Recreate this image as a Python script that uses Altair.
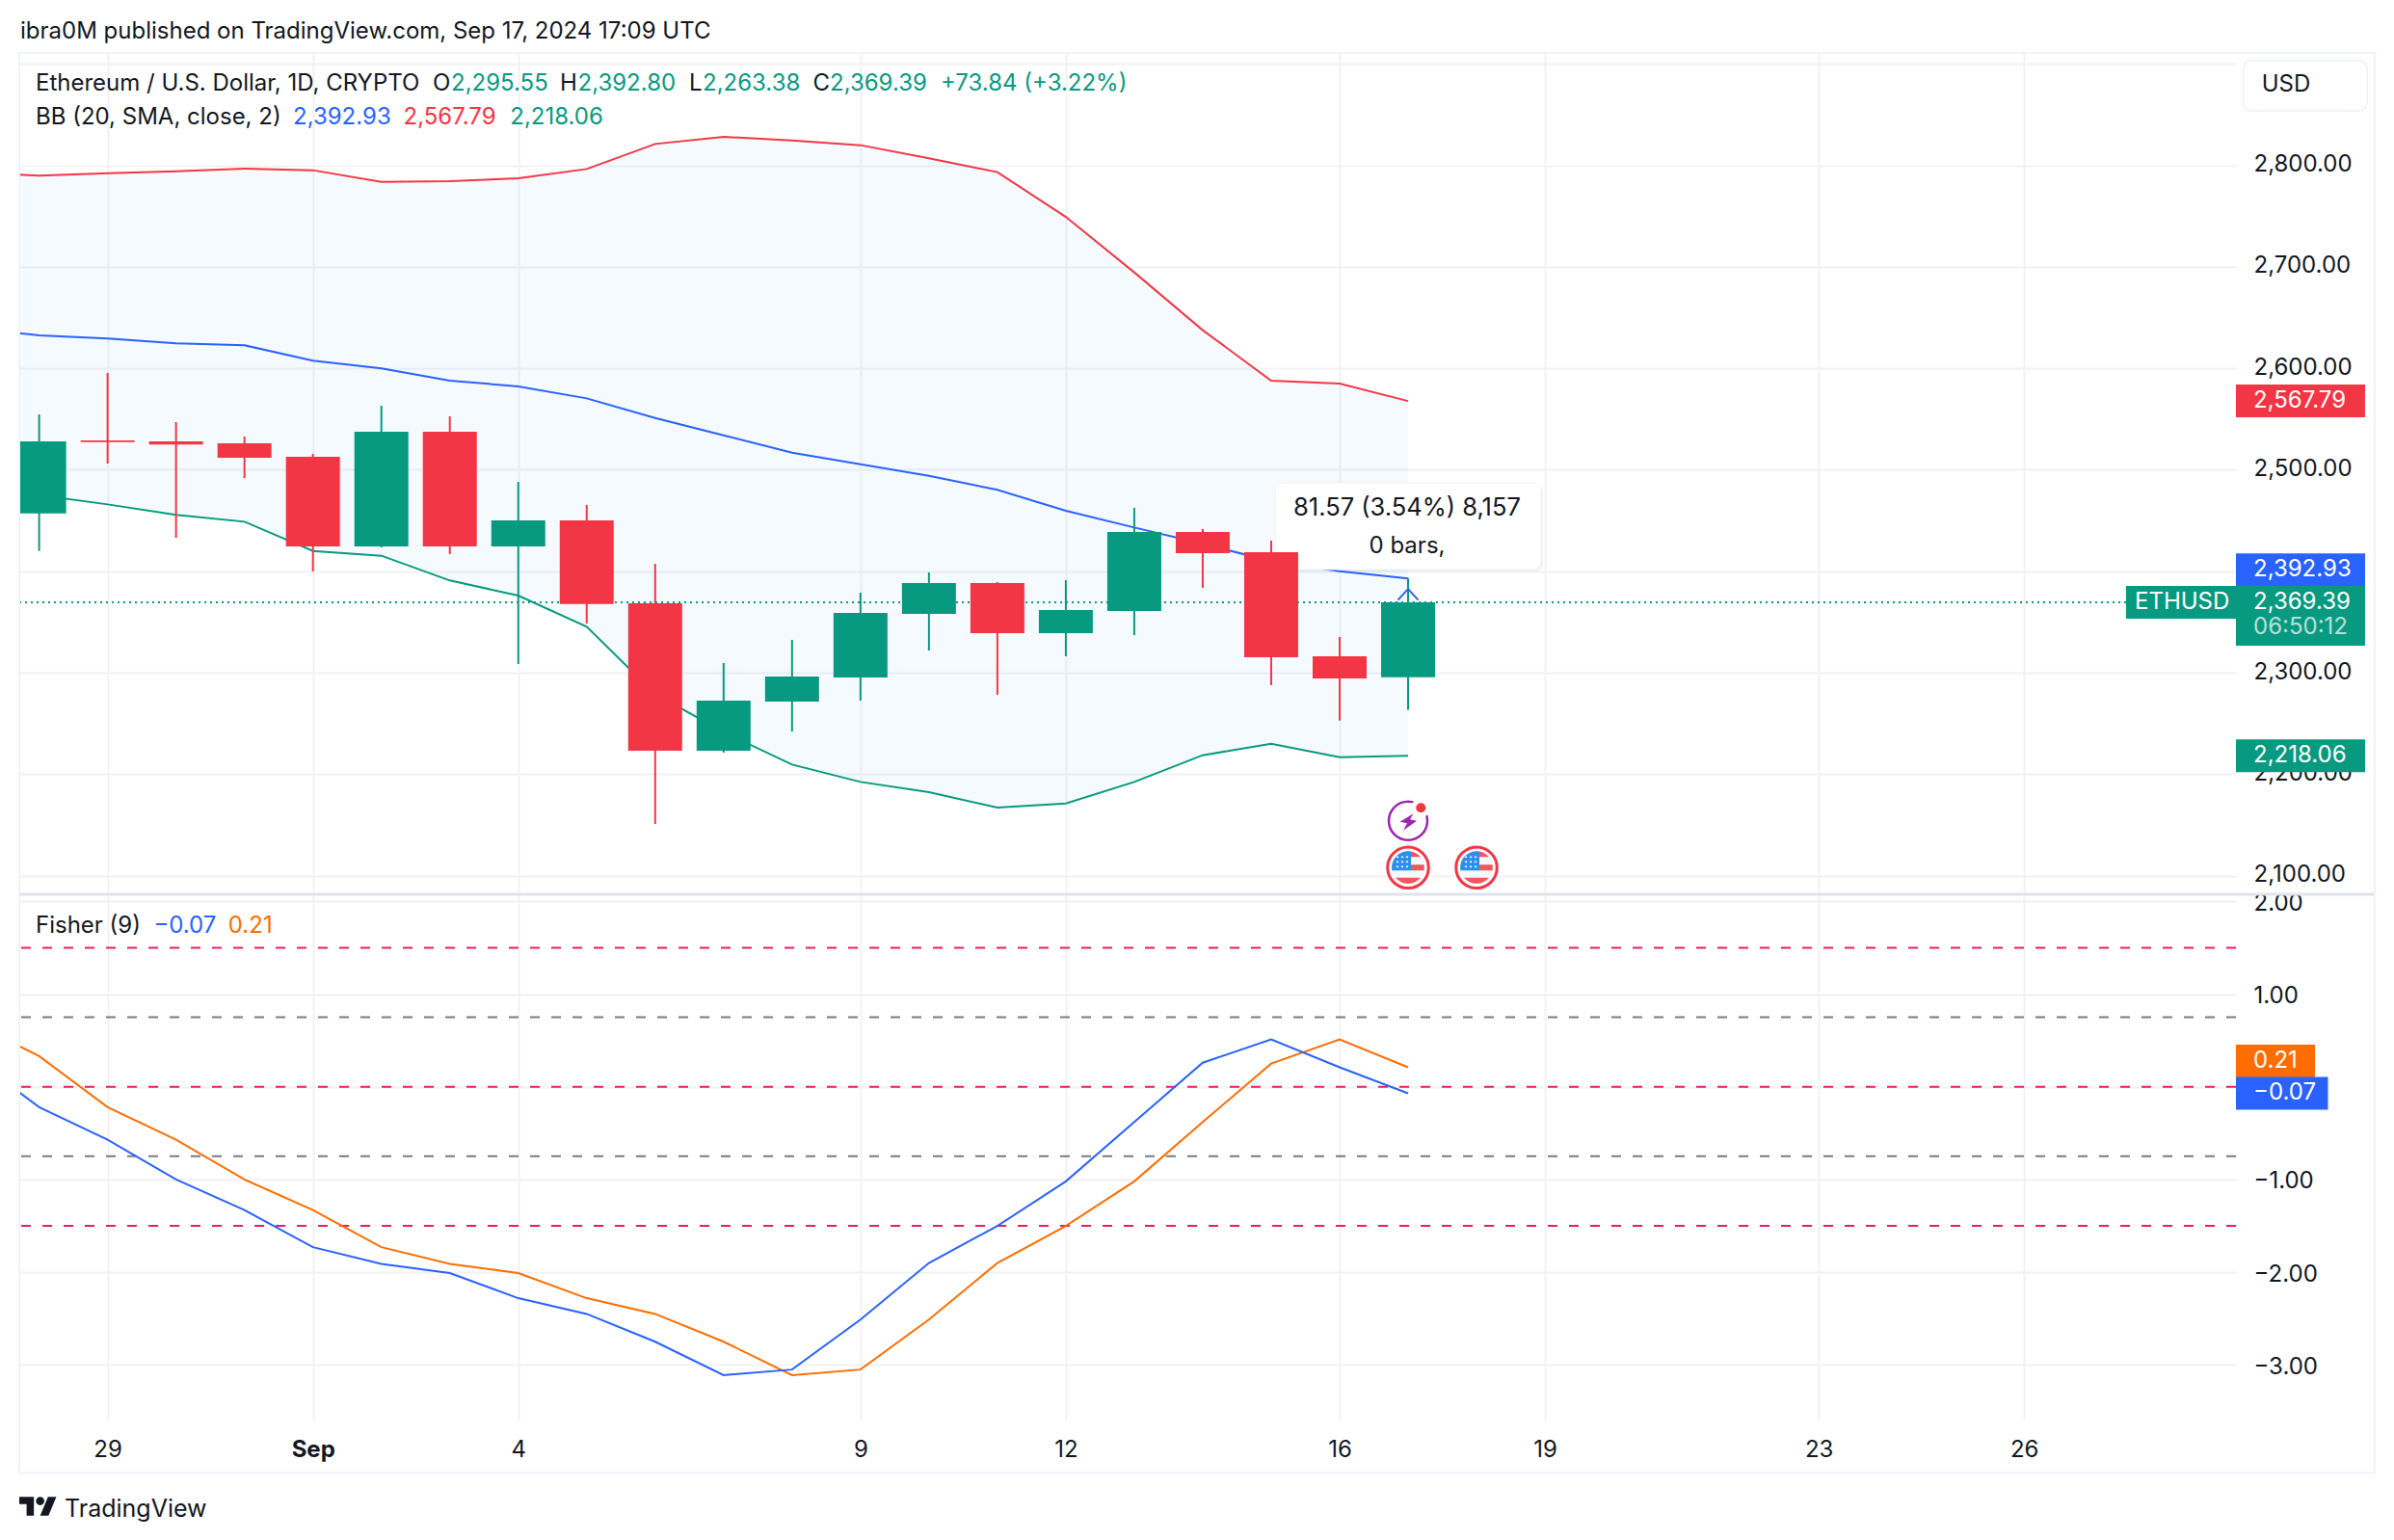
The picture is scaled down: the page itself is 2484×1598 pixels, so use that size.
import altair as alt
import pandas as pd

FONT = "Inter"
INK = "#131722"
GREEN = "#089981"
RED = "#f23645"
BLUE = "#2962ff"
ORANGE = "#ff6d00"
GRID = "#f1f2f5"
FRAME = "#f0f3fa"

DATES = ["2024-08-27", "2024-08-28", "2024-08-29", "2024-08-30", "2024-08-31",
         "2024-09-01", "2024-09-02", "2024-09-03", "2024-09-04", "2024-09-05",
         "2024-09-06", "2024-09-07", "2024-09-08", "2024-09-09", "2024-09-10",
         "2024-09-11", "2024-09-12", "2024-09-13", "2024-09-14", "2024-09-15",
         "2024-09-16", "2024-09-17"]
BB_UPPER = [2792.8, 2790, 2792.4, 2794.3, 2796.9, 2795.3, 2783.9, 2784.5, 2787.4, 2796.5, 2821.2,
            2828.2, 2824.7, 2820, 2807, 2793.4, 2749.3, 2694.6, 2637.6, 2587.9, 2585, 2567.79]
BB_MID = [2640.1, 2632.5, 2629.3, 2624.6, 2622.7, 2607.5, 2599.9, 2587.9, 2582.2, 2570.4, 2551.1,
          2534, 2516.9, 2505.5, 2494.1, 2480.2, 2459.6, 2443.1, 2427, 2410, 2400, 2392.93]
BB_LOWER = [2484, 2475, 2465.9, 2455.5, 2448.8, 2420, 2415.3, 2390.9, 2376, 2345.3, 2279,
            2241.4, 2209.4, 2192.3, 2182.2, 2167, 2171.1, 2192.3, 2218.6, 2230, 2216.7, 2218.06]
FISHER = [0.33, -0.22, -0.57, -1.00, -1.33, -1.73, -1.91, -2.01, -2.28, -2.45, -2.75,
          -3.11, -3.05, -2.51, -1.90, -1.50, -1.02, -0.38, 0.26, 0.51, 0.21, -0.07]
SIGNAL = [0.70, 0.33, -0.22, -0.57, -1.00, -1.33, -1.73, -1.91, -2.01, -2.28, -2.45,
          -2.75, -3.11, -3.05, -2.51, -1.90, -1.50, -1.02, -0.38, 0.25, 0.51, 0.21]

OPEN = [2457.1, 2529, 2528, 2526, 2512.8, 2424.5, 2537.5, 2424.5, 2450.1, 2368.4, 2223.1,
        2271.5, 2295.3, 2358, 2388.4, 2338.9, 2360.8, 2438.7, 2418.7, 2316.2, 2295.55]
HIGH = [2554.6, 2595.5, 2547, 2532.8, 2515.7, 2563.2, 2552.7, 2488, 2465.3, 2407.3, 2309.5,
        2332.3, 2378.9, 2398.8, 2389.3, 2391.2, 2462.5, 2441.6, 2430.2, 2335.2, 2392.80]
LOW = [2420, 2506.2, 2433, 2491.9, 2399.8, 2423.5, 2416.9, 2308.6, 2348.5, 2150.9, 2221.2,
       2242, 2272.5, 2321.9, 2278.2, 2316.2, 2337.1, 2383.6, 2287.7, 2252.8, 2263.38]
CLOSE = [2528, 2527.4, 2525, 2511.9, 2424.5, 2537.5, 2424.5, 2450.1, 2367.8, 2223.1, 2272.5,
         2296.2, 2358.9, 2388.4, 2338.9, 2361.8, 2438.7, 2417.8, 2315.2, 2294.3, 2369.39]

TICK_DATES = [(8, 29), (9, 1), (9, 4), (9, 9), (9, 12), (9, 16), (9, 19), (9, 23), (9, 26)]
PRICE_TICKS = [2100, 2200, 2300, 2400, 2500, 2600, 2700, 2800, 2900]
FISHER_TICKS = [2, 1, 0, -1, -2, -3]
HL_RED = [1.5, 0, -1.5]
HL_GRAY = [0.75, -0.75]

PANEL_W = 2300
PRICE_H = 874
FISHER_H = 545
HEADER_H = 45
FS = 24

x_scale = alt.Scale(type="utc", nice=False, padding=0,
                    domain=[alt.DateTime(year=2024, month=8, date=27, hours=17, minutes=2, utc=True),
                            alt.DateTime(year=2024, month=9, date=29, hours=2, minutes=17, utc=True)])
p_scale = alt.Scale(domain=[2081.5, 2911.8], nice=False, zero=False)
f_scale = alt.Scale(domain=[-3.589, 2.076], nice=False, zero=False)
tick_values = [alt.DateTime(year=2024, month=m, date=d, utc=True) for m, d in TICK_DATES]

bands = pd.DataFrame({"date": DATES, "upper": BB_UPPER, "mid": BB_MID, "lower": BB_LOWER,
                      "fisher": FISHER, "signal": SIGNAL})
candles = pd.DataFrame({"date": DATES[1:], "open": OPEN, "high": HIGH, "low": LOW, "close": CLOSE})
candles["dir"] = ["up" if c >= o else "down" for o, c in zip(OPEN, CLOSE)]
one = pd.DataFrame({"a": [0]})

X = alt.X("date:T", scale=x_scale, axis=None, title=None)
color_dir = alt.Color("dir:N", scale=alt.Scale(domain=["up", "down"], range=[GREEN, RED]), legend=None)


def label(text, x, y, color=INK, size=FS, align="left", weight=400, opacity=1.0):
    return alt.Chart(pd.DataFrame({"t": [text]})).mark_text(
        font=FONT, fontSize=size, color=color, align=align, baseline="middle",
        fontWeight=weight, opacity=opacity).encode(x=alt.value(x), y=alt.value(y), text="t:N")


def hrule(x0, x1, y, color=FRAME, width=2):
    return alt.Chart(one).mark_rule(color=color, strokeWidth=width).encode(
        x=alt.value(x0), x2=alt.value(x1), y=alt.value(y))


def vrule(x, y0, y1, color=FRAME, width=2):
    return alt.Chart(one).mark_rule(color=color, strokeWidth=width).encode(
        x=alt.value(x), y=alt.value(y0), y2=alt.value(y1))


def box(x0, x1, y0, y1, fill="white", stroke=None, radius=0, opacity=1.0, sw=2):
    kw = dict(fill=fill, cornerRadius=radius, opacity=opacity)
    if stroke:
        kw.update(stroke=stroke, strokeWidth=sw)
    return alt.Chart(one).mark_rect(**kw).encode(
        x=alt.value(x0), x2=alt.value(x1), y=alt.value(y0), y2=alt.value(y1))


def badge(value, color, x0, x1, scale, off=0, h=34):
    return alt.Chart(pd.DataFrame({"v": [value]})).mark_rule(
        color=color, strokeWidth=h, yOffset=off).encode(
        x=alt.value(x0), x2=alt.value(x1), y=alt.Y("v:Q", scale=scale, axis=None, title=None))


def badge_text(value, text, scale, x=2318, off=0, color="white", opacity=1.0):
    return alt.Chart(pd.DataFrame({"v": [value], "t": [text]})).mark_text(
        font=FONT, fontSize=FS, color=color, align="left", baseline="middle", dy=off, opacity=opacity).encode(
        x=alt.value(x), y=alt.Y("v:Q", scale=scale, axis=None, title=None), text="t:N")


def icon(day, y, path, size=4, fill=None, stroke=None, sw=0):
    kw = dict(shape=path, size=size, opacity=1)
    if fill:
        kw.update(filled=True, fill=fill)
    else:
        kw.update(filled=False)
    if stroke:
        kw.update(stroke=stroke, strokeWidth=sw)
    else:
        kw.update(strokeWidth=0)
    return alt.Chart(pd.DataFrame({"date": [day]})).mark_point(**kw).encode(x=X, y=alt.value(y))


# ---------- header strip ----------
header = alt.layer(
    label("ibra0M published on TradingView.com, Sep 17, 2024 17:09 UTC", 1, 24),
).properties(width=PANEL_W, height=HEADER_H)

# ---------- price pane ----------
price_axis = alt.Axis(orient="right", values=PRICE_TICKS, grid=True, gridColor=GRID, gridWidth=2,
                      domain=False, ticks=False, labelPadding=18, labelFont=FONT, labelFontSize=FS,
                      labelColor=INK, labelAlign="left", labelBaseline="middle", labelOffset=-1,
                      labelExpr="datum.value == 2900 ? '' : format(datum.value, ',.2f')")
x_grid_top = alt.Axis(values=tick_values, labels=False, ticks=False, domain=False, grid=True,
                      gridColor=GRID, gridWidth=2)

grid_top = alt.Chart(pd.DataFrame({"v": [2369.39]})).mark_rule(
    color=GREEN, strokeWidth=2, strokeDash=[2, 4]).encode(
    x=alt.value(0), x2=alt.value(2186), y=alt.Y("v:Q", scale=p_scale, axis=price_axis, title=None))
grid_top_x = alt.Chart(pd.DataFrame({"date": [DATES[-1]]})).mark_rule(opacity=0).encode(
    x=alt.X("date:T", scale=x_scale, axis=x_grid_top, title=None))

band = alt.Chart(bands).mark_area(color="#2196f3", opacity=0.05, clip=True).encode(
    x=X, y=alt.Y("upper:Q", scale=p_scale, axis=None, title=None), y2="lower:Q")


def bb_line(field, color):
    return alt.Chart(bands).mark_line(color=color, strokeWidth=2, clip=True).encode(
        x=X, y=alt.Y(f"{field}:Q", scale=p_scale, axis=None, title=None))


wicks = alt.Chart(candles).mark_rule(strokeWidth=2, clip=True).encode(
    x=X, y=alt.Y("low:Q", scale=p_scale, axis=None, title=None), y2="high:Q", color=color_dir)
bodies = alt.Chart(candles).mark_bar(size=56, clip=True).encode(
    x=X, y=alt.Y("open:Q", scale=p_scale, axis=None, title=None), y2="close:Q", color=color_dir)

tool_rule = alt.Chart(pd.DataFrame({"date": [DATES[-1]], "a": [2392.93], "b": [2369.39]})).mark_rule(
    color=GREEN, strokeWidth=2).encode(
    x=X, y=alt.Y("a:Q", scale=p_scale, axis=None, title=None), y2="b:Q")
CHEVRON = "M-10.5 6L0 -5.5L10.5 6"
BOLT = "M5.5 -7.5L-8.5 1L-1 2.5L-5 10L9 0L2 -1.5Z"
CANTON = "M3 -16.7A17 17 0 0 0 -16.7 3H3Z"
STRIPES = "M3 -16.7A17 17 0 0 1 13 -11H3ZM3 -3H16.7V3H3ZM-13 10.5H13A17 17 0 0 1 -13 10.5Z"
STARS = "".join(f"M{x} {y - 1.3}L{x + 1.3} {y}L{x} {y + 1.3}L{x - 1.3} {y}Z"
                for x in (-11, -6, -1) for y in (-11, -6, -1))
EVENT_DAY = DATES[-1]
NEXT_DAY = "2024-09-18"


def flag(day):
    y = 899.3 - 53
    return [icon(day, y, "circle", size=1810, fill="white", stroke=RED, sw=3),
            icon(day, y, "circle", size=1156, fill="#f5f8fc"),
            icon(day, y, CANTON, fill="#2f8fee"),
            icon(day, y, STRIPES, fill="#f0565a"),
            icon(day, y, STARS, fill="white")]


price_layers = [
    grid_top, grid_top_x, band,
    bb_line("upper", RED), bb_line("mid", BLUE), bb_line("lower", GREEN),
    # measuring tool box sits under the candles
    box(1305, 1581, 449, 539, fill="#000000", radius=8, opacity=0.05),
    box(1303, 1579, 447, 537, fill="white", stroke="#f0f1f4", radius=8, sw=1),
    label("81.57 (3.54%) 8,157", 1440, 473, align="center", size=25.5),
    label("0 bars,", 1440, 513, align="center"),
    wicks, bodies, tool_rule,
    icon(EVENT_DAY, 615.7 - 53, CHEVRON, stroke=BLUE, sw=2),
    # events
    icon(EVENT_DAY, 850.7 - 53, "circle", size=1600, fill="white", stroke="#9c27b0", sw=2.5),
    icon(EVENT_DAY, 850.7 - 53, BOLT, fill="#9c27b0"),
    alt.Chart(one).mark_point(shape="circle", size=400, filled=True, fill="white", opacity=1, strokeWidth=0).encode(
        x=alt.value(1454.3), y=alt.value(837.3 - 53)),
    alt.Chart(one).mark_point(shape="circle", size=100, filled=True, fill=RED, opacity=1, strokeWidth=0).encode(
        x=alt.value(1454.3), y=alt.value(837.3 - 53)),
] + flag(EVENT_DAY) + flag(NEXT_DAY) + [
    # right-hand badges
    badge(2567.79, RED, 2300, 2434, p_scale),
    badge_text(2567.79, "2,567.79", p_scale),
    badge(2392.93, BLUE, 2300, 2434, p_scale, off=-9),
    badge_text(2392.93, "2,392.93", p_scale, off=-9),
    badge(2369.39, GREEN, 2186, 2300, p_scale),
    badge(2369.39, GREEN, 2300, 2434, p_scale),
    badge(2369.39, GREEN, 2300, 2434, p_scale, off=31, h=28),
    badge_text(2369.39, "ETHUSD", p_scale, x=2195),
    badge_text(2369.39, "2,369.39", p_scale),
    badge_text(2369.39, "06:50:12", p_scale, off=26, opacity=0.7),
    badge(2218.06, GREEN, 2300, 2434, p_scale),
    badge_text(2218.06, "2,218.06", p_scale),
    # legend
    label("Ethereum / U.S. Dollar, 1D, CRYPTO", 17, 33),
    label("O", 429, 33), label("2,295.55", 448, 33, GREEN),
    label("H", 561, 33), label("2,392.80", 579.5, 33, GREEN),
    label("L", 695, 33), label("2,263.38", 709, 33, GREEN),
    label("C", 823.4, 33), label("2,369.39", 841, 33, GREEN),
    label("+73.84 (+3.22%)", 956, 33, GREEN),
    label("BB (20, SMA, close, 2)", 17, 67.7),
    label("2,392.93", 284, 67.7, BLUE), label("2,567.79", 398.5, 67.7, RED), label("2,218.06", 509.3, 67.7, GREEN),
    # USD button
    box(2307.7, 2436, 8.7, 61, fill="white", stroke=FRAME, radius=8),
    label("USD", 2326.7, 34),
    # frame
    hrule(0, 2444, 1), vrule(0, 0, PRICE_H), vrule(2444, 0, PRICE_H),
]
price = alt.layer(*price_layers).resolve_axis(x="independent", y="independent").properties(
    width=PANEL_W, height=PRICE_H)

# ---------- fisher pane ----------
fisher_axis = alt.Axis(orient="right", values=FISHER_TICKS, grid=True, gridColor=GRID, gridWidth=2,
                       domain=False, ticks=False, labelPadding=18, labelFont=FONT, labelFontSize=FS,
                       labelColor=INK, labelAlign="left", labelBaseline="middle", labelOffset=2,
                       labelExpr="datum.value == 0 ? '' : replace(format(datum.value, '.2f'), '-', '\u2212')")
x_axis = alt.Axis(values=tick_values, grid=True, gridColor=GRID, gridWidth=2, ticks=False, domain=False,
                  labelPadding=19.5, labelFont=FONT, labelFontSize=FS, labelColor=INK, labelAngle=0,
                  labelExpr="utcdate(datum.value) == 1 ? 'Sep' : '' + utcdate(datum.value)",
                  labelFontWeight={"condition": {"test": "utcdate(datum.value) == 1", "value": 700},
                                   "value": 400})

hl_red = alt.Chart(pd.DataFrame({"v": HL_RED})).mark_rule(
    color="#e91e63", strokeWidth=2, strokeDash=[10, 12]).encode(
    y=alt.Y("v:Q", scale=f_scale, axis=fisher_axis, title=None))
hl_gray = alt.Chart(pd.DataFrame({"v": HL_GRAY})).mark_rule(
    color="#787b86", strokeWidth=2, strokeDash=[10, 12]).encode(
    y=alt.Y("v:Q", scale=f_scale, axis=None, title=None))
grid_bottom_x = alt.Chart(pd.DataFrame({"date": [DATES[-1]]})).mark_rule(opacity=0).encode(
    x=alt.X("date:T", scale=x_scale, axis=x_axis, title=None))


def f_line(field, color):
    return alt.Chart(bands).mark_line(color=color, strokeWidth=2, clip=True).encode(
        x=X, y=alt.Y(f"{field}:Q", scale=f_scale, axis=None, title=None))


LOGO = "M-4 9H-11V-2H-18V-9H-4ZM10 9H2L9.5 -9H17.5ZM-2 -5A4 4 0 1 0 6 -5A4 4 0 1 0 -2 -5Z"
logo = alt.Chart(one).mark_point(shape=LOGO, size=4.69, filled=True, fill=INK, opacity=1, strokeWidth=0).encode(
    x=alt.value(19.5), y=alt.value(1562 - 927))

fisher = alt.layer(
    hl_red, hl_gray, grid_bottom_x,
    f_line("signal", ORANGE), f_line("fisher", BLUE),
    badge(0.21, ORANGE, 2300, 2382, f_scale, off=-6.5),
    badge_text(0.21, "0.21", f_scale, off=-6.5),
    badge(-0.07, BLUE, 2300, 2395.5, f_scale),
    badge_text(-0.07, "\u22120.07", f_scale),
    label("Fisher (9)", 17, 33),
    label("\u22120.07", 139.4, 33, BLUE),
    label("0.21", 216.8, 33, ORANGE),
    hrule(0, 2444, 0, color="#e0e3eb", width=3),
    vrule(0, 0, 600.5), vrule(2444, 0, 600.5), hrule(0, 2444, 600.5),
    logo,
    label("TradingView", 47, 638, size=25),
).resolve_axis(x="independent", y="independent").properties(width=PANEL_W, height=FISHER_H)

chart = alt.vconcat(header, price, fisher, spacing=0, bounds="flush").properties(
    padding={"left": 10, "top": 1, "right": 0, "bottom": 0}, background="white"
).configure_view(stroke=None)

chart.save("out.html", embed_options={"renderer": "svg", "actions": False})
